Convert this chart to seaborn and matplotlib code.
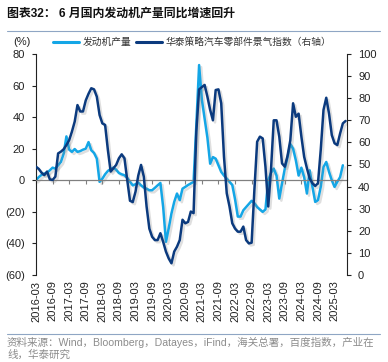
import numpy as np
import pandas as pd
import matplotlib
matplotlib.use('Agg')
import matplotlib.pyplot as plt
import matplotlib.patheffects as pe
from matplotlib.lines import Line2D
import seaborn as sns

# monthly data, starting 2016-03
engine_yoy = [0, 2, 3.4, 4.2, 4.8, 6.3, 8, 7.4, 9.5, 11.6,
              16.8, 27.8, 19.4, 18, 19.8, 18, 18.5, 19.4, 20, 24.2,
              19, 17.3, 13.7, -1, 1, 3.8, 5.9, 7.2, 8, 6.7,
              4.6, 3.8, 3.2, 1.5, -1, -3.2, -2.5, -1.5, -3.2, -4.6,
              -5.3, -6.3, -6.3, -4.8, -3.2, -1.7, -17, -39, -30.5, -21,
              -13.7, -8.4, -12.6, -5.3, -4.2, -3, -2, -1, 35, 73,
              51, 39, 27, 10.5, 14.7, 13.7, 9.5, 5.3, 3, 1,
              -1, -3, -12, -23, -23, -19, -17, -15, -13, -14.5,
              -17, -18.5, -20, -18.5, 0, 4.6, 7.4, 3, -11.6, -2,
              7.4, 14.7, 23, 20, 12.6, 3, 8, 2, -8.4, 6.3,
              -4.2, -13.7, -12.6, -4.2, 8.4, 11.6, 5.3, 0, -4.2, -1,
              2, 9.5]

parts_index = [49, 48, 46.3, 45.2, 46.8, 43.3, 43, 44.5, 55, 55.8,
               56.9, 58.8, 61, 64.9, 69.4, 76.9, 74, 74, 79, 82,
               84.5, 84, 80.7, 72.4, 68.6, 67.9, 56.6, 46.8, 48.3, 49.8,
               52.8, 54.6, 52.8, 43, 33.6, 33, 37.7, 45, 49.8, 44.5,
               31, 21, 17.3, 15.8, 15.8, 18.9, 15, 10.6, 7.5, 5.3,
               10.6, 12.8, 15.8, 25, 23.4, 24, 28.7, 28, 65, 84,
               85, 86, 80.7, 74.7, 70, 83.7, 84, 77.7, 53.5, 37,
               31, 23.4, 21, 19.6, 19.6, 21.9, 15.8, 14.3, 14.6, 38.5,
               60.3, 62.6, 61.8, 49, 31, 47.5, 70, 70, 62.6, 50.5,
               49, 54, 61, 77.7, 71.6, 73, 62.6, 53.5, 48.3, 43.7,
               41.5, 40.3, 41.5, 56.6, 74.7, 80.2, 73, 63.3, 59.6, 58.8,
               64, 68.6, 69.7]

months = pd.date_range('2016-03-01', periods=len(parts_index), freq='MS')
tick_pos = list(range(0, len(months), 6))
tick_labels = [months[i].strftime('%Y-%m') for i in tick_pos]
left_ticks = [80, 60, 40, 20, 0, -20, -40, -60]
right_ticks = list(range(0, 101, 10))

names = ['发动机产量', '华泰策略汽车零部件景气指数（右轴）']
light = '#14a6e6'
dark = '#0b3a7e'

sns.set_theme(style='white')
plt.rcParams['font.family'] = ['Liberation Sans', 'Noto Sans CJK SC']

df_eng = pd.DataFrame({'m': np.arange(len(engine_yoy)), 'v': engine_yoy})
df_idx = pd.DataFrame({'m': np.arange(len(parts_index)), 'v': parts_index})

fig = plt.figure(figsize=(3.88, 3.62), dpi=100)
ax = fig.add_axes([36 / 388, 1 - 275 / 362, 311 / 388, 221 / 362])
ax2 = ax.twinx()

shadow = [pe.SimpleLineShadow(offset=(1.5, -1.5), shadow_color='gray', alpha=0.25), pe.Normal()]
sns.lineplot(data=df_eng, x='m', y='v', ax=ax, color=light, lw=1.8, path_effects=shadow)
sns.lineplot(data=df_idx, x='m', y='v', ax=ax2, color=dark, lw=1.8, path_effects=shadow)

ax.set_xlim(0, len(parts_index) - 0.5)
ax.set_ylim(-60, 80)
ax2.set_ylim(0, 100)
ax.set_xlabel('')
ax.set_ylabel('')
ax2.set_ylabel('')

# left axis
ax.set_yticks(left_ticks)
ax.set_yticklabels([f'({abs(t)})' if t < 0 else str(t) for t in left_ticks])
ax.tick_params(axis='y', left=True, length=3, width=0.8, pad=5, labelsize=8, colors='#222222')
ax2.set_yticks(right_ticks)
ax2.tick_params(axis='y', right=True, length=3, width=0.8, pad=5, labelsize=8, colors='#222222')

for s in ['top', 'right']:
    ax.spines[s].set_visible(False)
for s in ['top', 'bottom', 'left']:
    ax2.spines[s].set_visible(False)
ax.spines['left'].set_color('#222222')
ax2.spines['right'].set_color('#222222')
ax.spines['left'].set_linewidth(0.8)
ax2.spines['right'].set_linewidth(0.8)

# zero line carries the tick marks, labels sit below the plot
ax.spines['bottom'].set_position(('data', 0))
ax.spines['bottom'].set_color('#808080')
ax.spines['bottom'].set_linewidth(0.9)
ax.set_xticks(tick_pos)
ax.tick_params(axis='x', bottom=True, labelbottom=False, length=3, width=0.8, color='#808080')

sec = ax.secondary_xaxis(0)
sec.set_ticks(tick_pos, tick_labels)
sec.tick_params(axis='x', length=0, pad=4, labelsize=8, rotation=90, colors='#222222')
sec.spines['bottom'].set_visible(False)

# header
fig.text(7 / 388, 1 - 14 / 362, '图表32： 6 月国内发动机产量同比增速回升',
         fontsize=8.6, fontweight='bold', va='center', ha='left', color='#111111')
fig.add_artist(Line2D([7 / 388, 380 / 388], [1 - 31 / 362] * 2, transform=fig.transFigure,
                      color='#8fa6c4', lw=0.8))
fig.text(13 / 388, 1 - 42 / 362, '(%)', fontsize=8, va='center', ha='left', color='#222222')

handles = [Line2D([], [], color=light, lw=2.2), Line2D([], [], color=dark, lw=2.2)]
fig.legend(handles, names, loc='center', bbox_to_anchor=(192 / 388, 1 - 42 / 362), ncol=2,
           frameon=False, fontsize=7, handlelength=2.7, handletextpad=0.3, columnspacing=0.5,
           labelcolor='#333333')

# footer
fig.add_artist(Line2D([7 / 388, 380 / 388], [1 - 334 / 362] * 2, transform=fig.transFigure,
                      color='#8fa6c4', lw=0.8))
fig.text(7 / 388, 1 - 342 / 362, '资料来源：Wind，Bloomberg，Datayes，iFind，海关总署，百度指数，产业在',
         fontsize=7.6, va='center', ha='left', color='#8c8c8c')
fig.text(7 / 388, 1 - 355 / 362, '线，华泰研究', fontsize=7.6, va='center', ha='left', color='#8c8c8c')

fig.savefig('out.png', dpi=100)
